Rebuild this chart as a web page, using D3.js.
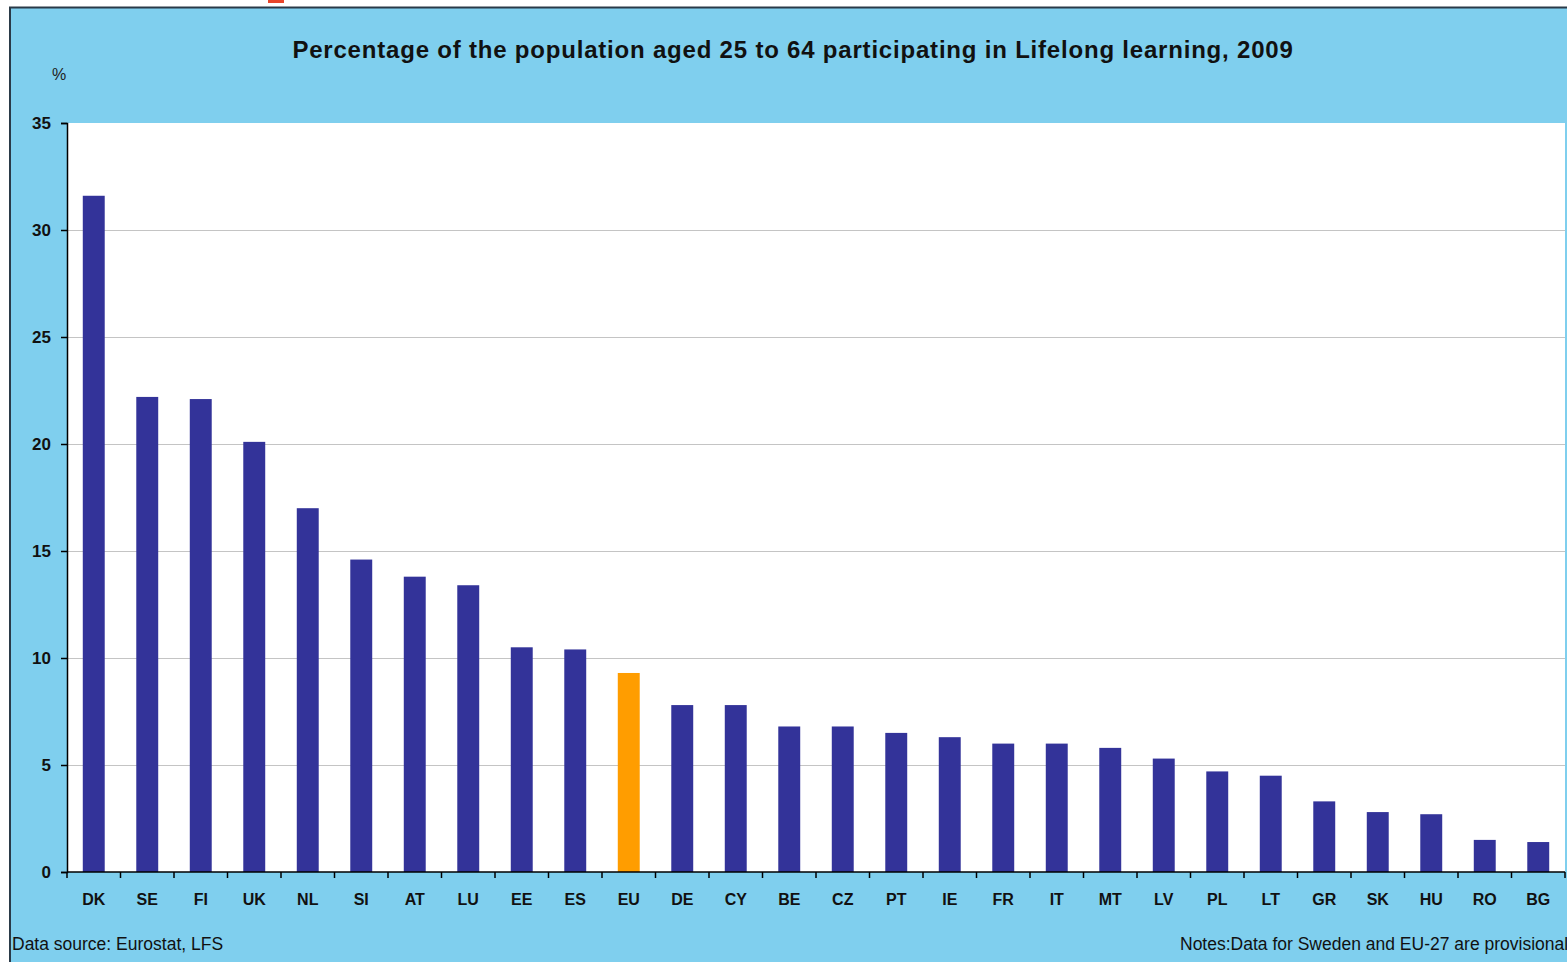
<!DOCTYPE html>
<html><head><meta charset="utf-8">
<script src="https://cdn.jsdelivr.net/npm/d3@7"></script>
<style>body{margin:0;background:#fff;overflow:hidden}svg{display:block}text{font-family:"Liberation Sans",Arial,sans-serif}</style>
</head><body>
<script>
const countries = ["DK","SE","FI","UK","NL","SI","AT","LU","EE","ES","EU","DE","CY","BE","CZ","PT","IE","FR","IT","MT","LV","PL","LT","GR","SK","HU","RO","BG"];
const values = [31.6,22.2,22.1,20.1,17.0,14.6,13.8,13.4,10.5,10.4,9.3,7.8,7.8,6.8,6.8,6.5,6.3,6.0,6.0,5.8,5.3,4.7,4.5,3.3,2.8,2.7,1.5,1.4];
const highlight = ["EU"];
const yTicks = [0,5,10,15,20,25,30,35];
const title = "Percentage of the population aged 25 to 64 participating in Lifelong learning, 2009";
const source = "Data source: Eurostat, LFS";
const notes = "Notes:Data for Sweden and EU-27 are provisional";

const W = 1567, H = 962;
const svg = d3.select("body").append("svg").attr("width", W).attr("height", H);
// background frame
svg.append("rect").attr("x",0).attr("y",0).attr("width",W).attr("height",H).attr("fill","#fff");
svg.append("rect").attr("x",268).attr("y",0).attr("width",16).attr("height",3).attr("fill","#e8452a");
svg.append("rect").attr("x",10).attr("y",7).attr("width",W-10).attr("height",H-7).attr("fill","#7fcfee");
svg.append("line").attr("x1",9).attr("x2",W).attr("y1",7.5).attr("y2",7.5).attr("stroke","#2a3a48").attr("stroke-width",2);
svg.append("line").attr("x1",10).attr("x2",10).attr("y1",7).attr("y2",H).attr("stroke","#2a3a48").attr("stroke-width",2);

const m = {left:67, top:123, right:1565, bottom:872};
svg.append("rect").attr("x",m.left).attr("y",m.top).attr("width",m.right-m.left).attr("height",m.bottom-m.top).attr("fill","#fff");

const x = d3.scaleBand().domain(countries).range([m.left, m.right]).paddingInner(0.59).paddingOuter(0.295);
const y = d3.scaleLinear().domain([0,35]).range([m.bottom, m.top]);

// gridlines
svg.append("g").selectAll("line").data(yTicks.filter(d=>d>0 && d<35)).join("line")
  .attr("x1",m.left).attr("x2",m.right).attr("y1",d=>y(d)+0.5).attr("y2",d=>y(d)+0.5)
  .attr("stroke","#c4c4c4").attr("stroke-width",1);

// bars
svg.append("g").selectAll("rect").data(countries).join("rect")
  .attr("x",d=>x(d)).attr("width",x.bandwidth())
  .attr("y",(d,i)=>y(values[i])).attr("height",(d,i)=>y(0)-y(values[i]))
  .attr("fill",d=>highlight.includes(d)?"#ff9d00":"#333399");

// y axis
const ya = svg.append("g").attr("transform",`translate(${m.left},0)`)
  .call(d3.axisLeft(y).tickValues(yTicks).tickSize(6).tickPadding(10).tickFormat(d3.format("d")));
ya.select(".domain").attr("stroke","#000").attr("stroke-width",1.5);
ya.selectAll(".tick line").attr("stroke","#000").attr("stroke-width",1.5);
ya.selectAll("text").attr("font-size",17).attr("font-weight","bold").attr("fill","#111");

// x axis line + ticks between categories
const xa = svg.append("g");
xa.append("line").attr("x1",m.left).attr("x2",m.right).attr("y1",y(0)).attr("y2",y(0)).attr("stroke","#000").attr("stroke-width",1.5);
const step = x.step();
xa.selectAll("line.tk").data(d3.range(countries.length+1)).join("line").attr("class","tk")
  .attr("x1",i=>m.left+i*step).attr("x2",i=>m.left+i*step)
  .attr("y1",y(0)).attr("y2",y(0)+6).attr("stroke","#000").attr("stroke-width",1.5);
xa.selectAll("text").data(countries).join("text")
  .attr("x",d=>x(d)+x.bandwidth()/2).attr("y",y(0)+33)
  .attr("text-anchor","middle").attr("font-size",16).attr("font-weight","bold").attr("fill","#111")
  .text(d=>d);

// titles
svg.append("text").attr("x",793).attr("y",58).attr("text-anchor","middle")
  .attr("font-size",24).attr("letter-spacing",0.8).attr("font-weight","bold").attr("fill","#111").text(title);
svg.append("text").attr("x",59).attr("y",80).attr("text-anchor","middle")
  .attr("font-size",16).attr("fill","#222").attr("font-family","'Liberation Serif',serif").text("%");
svg.append("text").attr("x",12).attr("y",950).attr("font-size",17.5).attr("fill","#111").text(source);
svg.append("text").attr("x",1180).attr("y",950).attr("font-size",17.5).attr("fill","#111").text(notes);
</script>
</body></html>
